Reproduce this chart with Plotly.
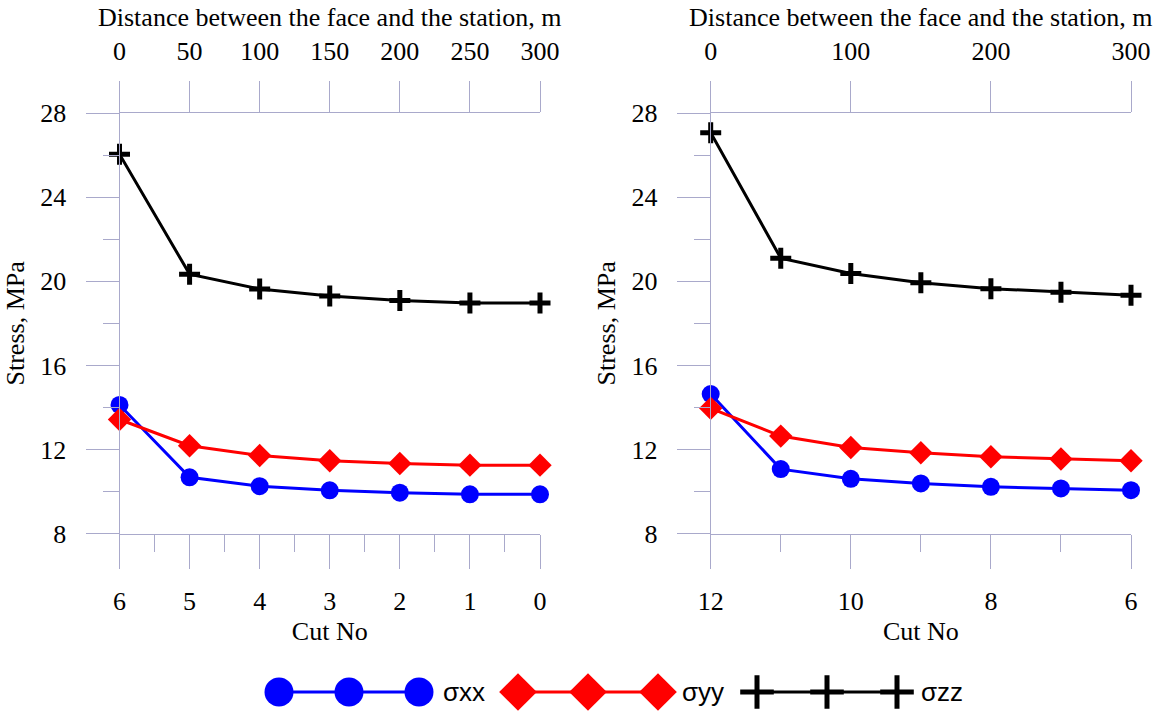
import plotly.graph_objects as go

# ---------------- data ----------------
cuts_left = [6, 5, 4, 3, 2, 1, 0]
cuts_right = [12, 11, 10, 9, 8, 7, 6]

sxx_left = [14.12, 10.68, 10.26, 10.06, 9.95, 9.87, 9.87]
syy_left = [13.43, 12.18, 11.72, 11.47, 11.34, 11.26, 11.26]
szz_left = [26.04, 20.34, 19.63, 19.30, 19.09, 18.97, 18.97]

sxx_right = [14.64, 11.07, 10.61, 10.39, 10.23, 10.15, 10.07]
syy_right = [13.96, 12.64, 12.10, 11.85, 11.66, 11.55, 11.47]
szz_right = [27.06, 21.10, 20.37, 19.93, 19.65, 19.48, 19.33]

distance_ticks_left = [0, 50, 100, 150, 200, 250, 300]
distance_ticks_right = [0, 100, 200, 300]
stress_ticks = [8, 12, 16, 20, 24, 28]

series_names = ["σxx", "σyy", "σzz"]

# ---------------- styles ----------------
W, H = 1170, 712
AX = "#a9a9cb"
SERIF = "Liberation Serif"
FS = 26
colors = ["#0000ff", "#ff0000", "#000000"]
symbols = ["circle", "diamond", "cross-thin"]


def mk(i, size):
    if symbols[i] == "cross-thin":
        return dict(symbol="cross-thin", size=size, color=colors[i],
                    line=dict(color=colors[i], width=5))
    return dict(symbol=symbols[i], size=size, color=colors[i], line=dict(width=0))


fig = go.Figure()

panels = [
    (cuts_left, [sxx_left, syy_left, szz_left], "x", "y"),
    (cuts_right, [sxx_right, syy_right, szz_right], "x3", "y2"),
]
for cuts, series, xa, ya in panels:
    for i, vals in enumerate(series):
        fig.add_trace(go.Scatter(
            x=cuts, y=vals, mode="lines+markers", xaxis=xa, yaxis=ya,
            line=dict(color=colors[i], width=3),
            marker=mk(i, 18 if i < 2 else 15),
            showlegend=False, cliponaxis=False, name=series_names[i]))

# dummy traces to activate top axes
fig.add_trace(go.Scatter(x=[0, 300], y=[None, None], xaxis="x2", yaxis="y",
                         showlegend=False, hoverinfo="skip"))
fig.add_trace(go.Scatter(x=[0, 300], y=[None, None], xaxis="x4", yaxis="y2",
                         showlegend=False, hoverinfo="skip"))

# ---------------- custom legend (3 markers per item) ----------------
LEG_X0, LEG_STEP, LEG_ITEM = 279, 70, 239
for i, name in enumerate(series_names):
    x0 = LEG_X0 + i * LEG_ITEM
    xs = [x0 + k * LEG_STEP for k in range(3)]
    fig.add_trace(go.Scatter(
        x=xs, y=[0, 0, 0], xaxis="x5", yaxis="y5", mode="lines+markers",
        line=dict(color=colors[i], width=3),
        marker=mk(i, 29 if i < 2 else 24),
        showlegend=False, cliponaxis=False, hoverinfo="skip"))
    fig.add_annotation(x=xs[-1] + 22, y=0, xref="x5", yref="y5", text=name,
                       showarrow=False, xanchor="left", yanchor="middle",
                       font=dict(family="Liberation Sans", size=26, color="black"))

# ---------------- axes ----------------
xl = [119.5 / W, 540 / W]
xr = [710.7 / W, 1131 / W]
yd = [1 - 533.7 / H, 1 - 113 / H]

tickfont = dict(family=SERIF, size=FS, color="black")
titlefont = dict(family=SERIF, size=FS, color="black")


def bottom_axis(domain, rng, dtick, mdtick, anchor):
    return dict(domain=domain, range=rng, anchor=anchor, side="bottom",
                automargin=False,
                tickmode="linear", tick0=0, dtick=dtick,
                ticks="outside", ticklen=34, tickwidth=1, tickcolor=AX,
                showline=True, linecolor=AX, linewidth=1,
                showgrid=False, zeroline=False,
                ticklabelstandoff=10, tickfont=tickfont,
                minor=dict(dtick=mdtick, tick0=0, ticks="outside", ticklen=17,
                           tickwidth=1, tickcolor=AX, showgrid=False),
                title=dict(text="Cut No", font=titlefont, standoff=6))


def top_axis(overlay, rng, tickvals, anchor):
    return dict(overlaying=overlay, range=rng, anchor=anchor, side="top",
                automargin=False,
                tickmode="array", tickvals=tickvals,
                ticks="outside", ticklen=31, tickwidth=1, tickcolor=AX,
                showline=True, linecolor=AX, linewidth=1,
                showgrid=False, zeroline=False,
                ticklabelstandoff=11, tickfont=tickfont,
                title=dict(text="Distance between the face and the station, m",
                           font=titlefont, standoff=2))


def y_axis(anchor):
    return dict(domain=yd, range=[8, 28], anchor=anchor,
                automargin=False,
                tickmode="array", tickvals=stress_ticks,
                ticks="outside", ticklen=33, tickwidth=1, tickcolor=AX,
                showline=True, linecolor=AX, linewidth=1,
                showgrid=False, zeroline=False,
                ticklabelstandoff=14, tickfont=tickfont,
                minor=dict(dtick=2, tick0=0, ticks="outside", ticklen=16,
                           tickwidth=1, tickcolor=AX, showgrid=False),
                title=dict(text="Stress, MPa", font=titlefont, standoff=8))


fig.update_layout(
    width=W, height=H,
    margin=dict(l=0, r=0, t=0, b=0, autoexpand=False),
    paper_bgcolor="white", plot_bgcolor="white",
    showlegend=False,
    xaxis=bottom_axis(xl, [6, 0], 1, 0.5, "y"),
    xaxis2=top_axis("x", [0, 300], distance_ticks_left, "y"),
    xaxis3=bottom_axis(xr, [12, 6], 2, 1, "y2"),
    xaxis4=top_axis("x3", [0, 300], distance_ticks_right, "y2"),
    yaxis=y_axis("x"),
    yaxis2=y_axis("x3"),
    xaxis5=dict(domain=[0, 1], range=[0, W], visible=False, anchor="y5",
                automargin=False),
    yaxis5=dict(domain=[0, 2 * (1 - 692 / H)], range=[-1, 1], visible=False,
                anchor="x5", automargin=False),
)

fig.write_html("out.html")
